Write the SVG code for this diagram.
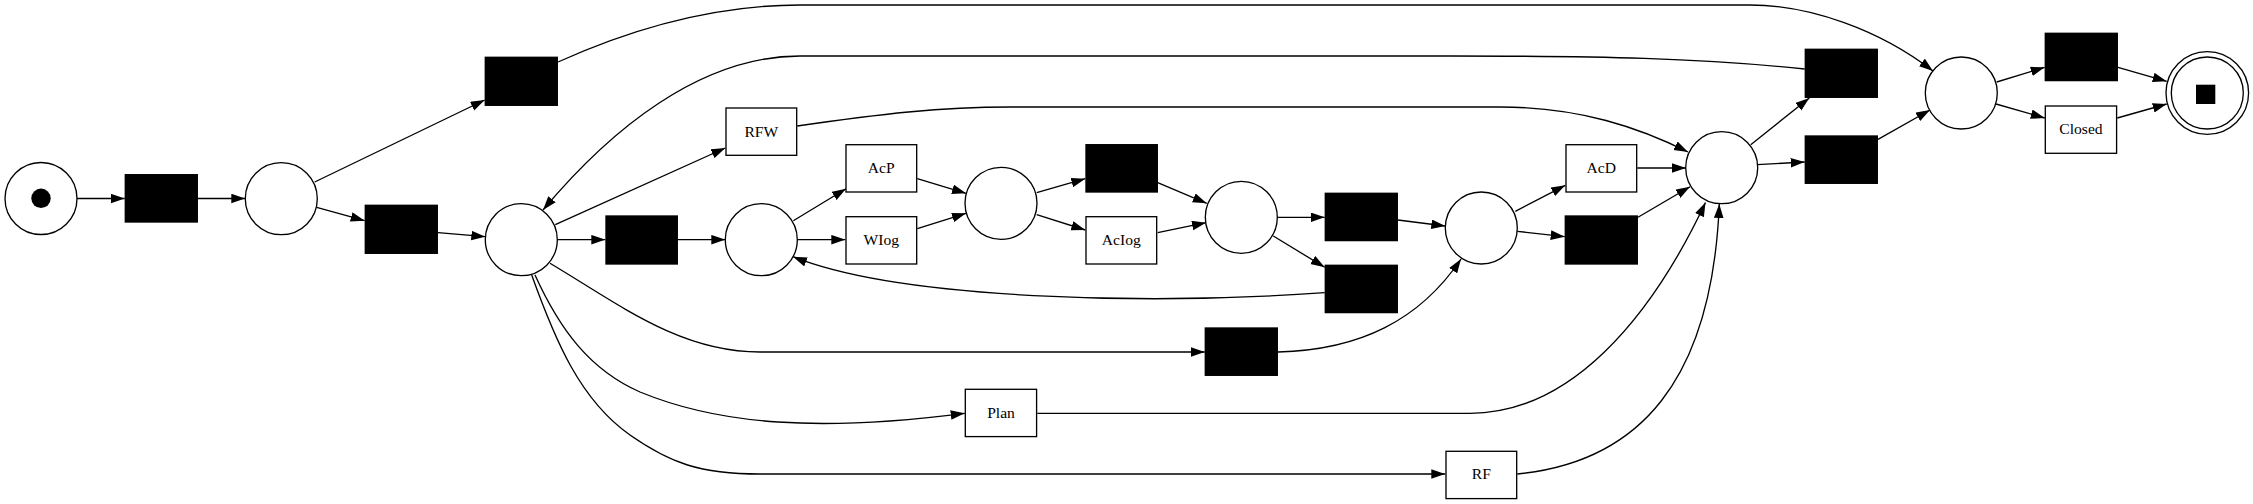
<svg xmlns="http://www.w3.org/2000/svg" width="2253" height="504" viewBox="0 0 2253 504">
<style>
.pl{fill:#fff;stroke:#000;stroke-width:1.33}
.tb{fill:#000;stroke:#000;stroke-width:1.33}
.tw{fill:#fff;stroke:#000;stroke-width:1.33}
.lb{font-family:"Liberation Serif","Times New Roman",serif;font-size:15.6px;text-anchor:middle;fill:#000}
.ed{fill:none;stroke:#000;stroke-width:1.33;marker-end:url(#ah)}
</style>
<defs>
<marker id="ah" markerWidth="14" markerHeight="10" refX="14" refY="4.8" orient="auto" markerUnits="userSpaceOnUse">
<path d="M0,0 L14,4.8 L0,9.6 z" fill="#000"/>
</marker>
</defs>
<rect width="2253" height="504" fill="#fff"/>
<g id="connectors">
<path class="ed" d="M77,198.5 L124.7,198.5"/>
<path class="ed" d="M198,198.5 L245.3,198.5"/>
<path class="ed" d="M314.7,182 L484.7,100"/>
<path class="ed" d="M316.7,207.3 L364.7,220.7"/>
<path class="ed" d="M438,232.7 L485.3,236.7"/>
<path class="ed" d="M558,62 C640,25 720,5 800,5 L1750,5 C1810,5 1880,30 1933,71"/>
<path class="ed" d="M555.3,224.7 L725.3,148"/>
<path class="ed" d="M557.3,239.7 L605.3,239.7"/>
<path class="ed" d="M678,239.7 L725.3,239.7"/>
<path class="ed" d="M793.3,220.7 L846,188.7"/>
<path class="ed" d="M797.3,239.7 L845.3,239.7"/>
<path class="ed" d="M917.3,178.7 L966,193.3"/>
<path class="ed" d="M917.3,228.7 L966,213.3"/>
<path class="ed" d="M1036.7,192.7 L1085.3,178.7"/>
<path class="ed" d="M1036.7,214.7 L1085.3,230"/>
<path class="ed" d="M1157.7,182.7 L1206.7,203.3"/>
<path class="ed" d="M1157.7,232.7 L1206,222.7"/>
<path class="ed" d="M1277.3,217.3 L1324.7,217.3"/>
<path class="ed" d="M1273.3,236 L1324.7,267.3"/>
<path class="ed" d="M1324.7,292.7 C1150,305 900,300 793,256.7"/>
<path class="ed" d="M1398,220 L1445.3,226"/>
<path class="ed" d="M550,263.3 C620,305 680,352 760,352 L1204.7,352"/>
<path class="ed" d="M1278,352 C1360,350 1420,320 1461,259"/>
<path class="ed" d="M1515.3,211.3 L1565.3,185.3"/>
<path class="ed" d="M1517.3,231.3 L1564.7,236.7"/>
<path class="ed" d="M1637.3,168 L1686,168"/>
<path class="ed" d="M1638,217.3 L1690,186.7"/>
<path class="ed" d="M797.3,126 C880,114 940,107 1010,107 L1500,107 C1580,107 1640,128 1688,152"/>
<path class="ed" d="M535,275 C560,330 590,370 640,392 C720,425 820,432 964.7,413.3"/>
<path class="ed" d="M1037.3,413.3 L1470,413.3 C1570,413.3 1650,320 1705.5,202.5"/>
<path class="ed" d="M531.7,275 C555,340 580,400 630,435 C670,463 700,474 760,474 L1445.3,474"/>
<path class="ed" d="M1517.3,474 C1640,462 1712,380 1719.3,204"/>
<path class="ed" d="M1750.7,144.7 L1809.3,98"/>
<path class="ed" d="M1757.3,164.7 L1804.7,162"/>
<path class="ed" d="M1804.7,69 C1700,58 1600,56 1450,56 L800,56 C700,56 610,130 543,210"/>
<path class="ed" d="M1878,139.3 L1930,110"/>
<path class="ed" d="M1996.7,82 L2044.7,67.3"/>
<path class="ed" d="M1996,104 L2044.7,118"/>
<path class="ed" d="M2118,67.3 L2166.7,81.3"/>
<path class="ed" d="M2117.3,118 L2166.7,104"/>
</g>
<g id="p_start"><circle class="pl" cx="41" cy="198.5" r="36"/><circle cx="41" cy="198.3" r="9.7" fill="#000"/></g>
<g id="t1"><rect class="tb" x="125.3" y="174.7" width="72" height="47.3"/></g>
<g id="p1"><circle class="pl" cx="281.3" cy="198.7" r="36"/></g>
<g id="t2"><rect class="tb" x="485.3" y="57.3" width="72" height="48"/></g>
<g id="t3"><rect class="tb" x="365.3" y="205.3" width="72" height="48"/></g>
<g id="p2"><circle class="pl" cx="521.3" cy="239.7" r="36"/></g>
<g id="RFW"><rect class="tw" x="726" y="108" width="70.7" height="47.3"/><text class="lb" x="761.3" y="136.5">RFW</text></g>
<g id="t4"><rect class="tb" x="606" y="216" width="71.3" height="48"/></g>
<g id="p3"><circle class="pl" cx="761.3" cy="239.7" r="36"/></g>
<g id="AcP"><rect class="tw" x="846" y="144.7" width="70.7" height="47.3"/><text class="lb" x="881.3" y="172.5">AcP</text></g>
<g id="WIog"><rect class="tw" x="846" y="216.7" width="70.7" height="47.3"/><text class="lb" x="881.3" y="244.5">WIog</text></g>
<g id="p4"><circle class="pl" cx="1001" cy="203.3" r="36"/></g>
<g id="t5"><rect class="tb" x="1086" y="144.7" width="71.3" height="47.3"/></g>
<g id="AcIog"><rect class="tw" x="1086" y="216.7" width="70.7" height="47.3"/><text class="lb" x="1121.3" y="244.5">AcIog</text></g>
<g id="p5"><circle class="pl" cx="1241.3" cy="217.3" r="36"/></g>
<g id="t6"><rect class="tb" x="1325.3" y="193.3" width="72" height="47.3"/></g>
<g id="t7"><rect class="tb" x="1325.3" y="265.3" width="72" height="47.3"/></g>
<g id="t8"><rect class="tb" x="1205.3" y="328" width="72" height="47.3"/></g>
<g id="Plan"><rect class="tw" x="965.3" y="389.3" width="71.3" height="47.3"/><text class="lb" x="1001" y="417.8">Plan</text></g>
<g id="p6"><circle class="pl" cx="1481.3" cy="228" r="36"/></g>
<g id="RF"><rect class="tw" x="1446" y="451.3" width="70.7" height="47.3"/><text class="lb" x="1481.3" y="479.3">RF</text></g>
<g id="AcD"><rect class="tw" x="1566" y="144.7" width="70.7" height="47.3"/><text class="lb" x="1601.3" y="172.5">AcD</text></g>
<g id="t9"><rect class="tb" x="1565.3" y="216" width="72" height="48"/></g>
<g id="p7"><circle class="pl" cx="1721.7" cy="167.7" r="36"/></g>
<g id="t10"><rect class="tb" x="1805.3" y="49.3" width="72" height="48"/></g>
<g id="t11"><rect class="tb" x="1805.3" y="136" width="72" height="47.3"/></g>
<g id="p8"><circle class="pl" cx="1961.3" cy="93" r="36"/></g>
<g id="t12"><rect class="tb" x="2045.3" y="33.3" width="72" height="47.3"/></g>
<g id="Closed"><rect class="tw" x="2045.3" y="106" width="71.3" height="47.3"/><text class="lb" x="2081" y="133.6">Closed</text></g>
<g id="p_end"><circle class="pl" cx="2207.3" cy="93" r="41.3"/><circle class="pl" cx="2207.3" cy="93" r="36"/><rect x="2196" y="84.7" width="19.3" height="19.3" fill="#000"/></g>
</svg>
